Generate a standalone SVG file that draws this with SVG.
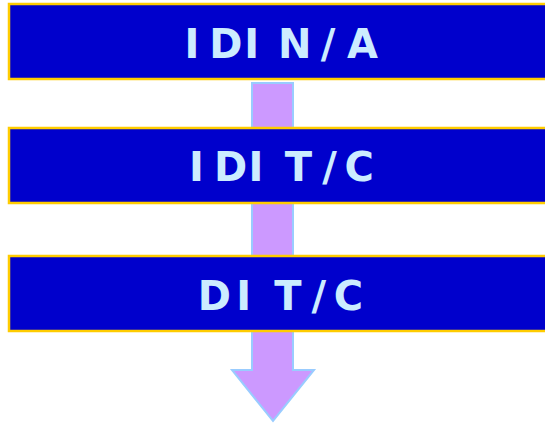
<svg xmlns="http://www.w3.org/2000/svg" width="545" height="424" viewBox="0 0 545 424">
  <style>
    .box { fill: #0000CC; stroke: #FFCC00; stroke-width: 2.5; }
    .label { fill: #CCECFF; font-family: "DejaVu Sans", "Liberation Sans", sans-serif; font-weight: bold; font-size: 40px; }
    .flow { fill: #CC99FF; stroke: #99CCFF; stroke-width: 2; }
  </style>
  <rect width="545" height="424" fill="#FFFFFF"/>
  <g id="connectors">
    <rect class="flow" x="252" y="83" width="41" height="46"/>
    <rect class="flow" x="252" y="200" width="41" height="58"/>
    <path class="flow" d="M252,329 V370 H232 L273,421 L314,370 H293 V329 Z"/>
  </g>
  <g id="node-idi-na">
    <rect class="box" x="9" y="4" width="560" height="75"/>
    <text class="label" x="184.5 209.2 244.2 262 277.9 320.7 346.9" y="57.7">IDI N/A</text>
  </g>
  <g id="node-idi-tc">
    <rect class="box" x="9" y="128" width="560" height="75"/>
    <text class="label" x="188.9 213.9 248.5 265 284.8 322.2 344.5" y="181">IDI T/C</text>
  </g>
  <g id="node-di-tc">
    <rect class="box" x="9" y="256" width="560" height="75"/>
    <text class="label" x="197.7 236.2 250 274.3 311.4 333.8" y="309.5">DI T/C</text>
  </g>
</svg>
